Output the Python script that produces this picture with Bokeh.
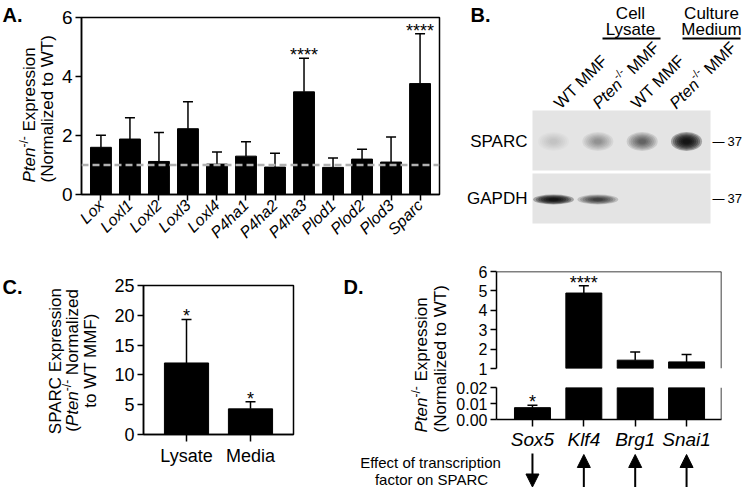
import numpy as np
from bokeh.plotting import figure
from bokeh.models import (Range1d, FixedTicker, Whisker, TeeHead, ColumnDataSource,
                          Label, Span, Arrow, NormalHead, PrintfTickFormatter)
from bokeh.layouts import row, column
from bokeh.core.properties import value
from bokeh.embed import file_html
from bokeh.resources import INLINE

# ---------------- data ----------------
A_GENES = ["Lox", "Loxl1", "Loxl2", "Loxl3", "Loxl4", "P4ha1", "P4ha2",
           "P4ha3", "Plod1", "Plod2", "Plod3", "Sparc"]
A_MEAN = [1.60, 1.88, 1.12, 2.23, 1.03, 1.30, 0.93, 3.48, 0.92, 1.20, 1.10, 3.76]
A_UPPER = [2.01, 2.60, 2.10, 3.14, 1.44, 1.79, 1.40, 4.62, 1.24, 1.53, 1.95, 5.45]
A_SIG = ["", "", "", "", "", "", "", "****", "", "", "", "****"]
A_YTICKS = [0, 2, 4, 6]
A_WT_LEVEL = 1.0

B_GENOTYPE = ["WT", "Pten", "WT", "Pten"]
B_KO = [False, True, False, True]
B_CELL = "MMF"
B_GROUP_L1 = ["Cell", "Culture"]
B_GROUP_L2 = ["Lysate", "Medium"]
B_BLOTS = ["SPARC", "GAPDH"]
B_MARKER = ["37", "37"]
SPARC_SIGNAL = [0.06, 0.20, 0.36, 0.95]
GAPDH_SIGNAL = [0.95, 0.55, 0.0, 0.0]

C_GROUPS = ["Lysate", "Media"]
C_MEAN = [12.0, 4.3]
C_UPPER = [19.3, 5.5]
C_SIG = ["*", "*"]
C_YTICKS = [0, 5, 10, 15, 20, 25]

D_GENES = ["Sox5", "Klf4", "Brg1", "Snai1"]
D_MEAN = [0.0074, 4.89, 1.43, 1.34]
D_UPPER = [0.0089, 5.27, 1.85, 1.72]
D_SIG = ["*", "****", "", ""]
D_EFFECT = ["down", "up", "up", "up"]
D_SEG_HIGH = [1, 6]
D_TICKS_HIGH = [1, 2, 3, 4, 5, 6]
D_SEG_LOW = [0, 0.02]
D_TICKS_LOW = [0, 0.01, 0.02]

# ---------------- style ----------------
INK = "black"
FONT = "Liberation Sans"
CW = {' ': 278, '(': 333, ')': 333, '-': 333, '/': 278, 'P': 667, 't': 278, 'e': 556,
      'n': 556, 'E': 667, 'x': 500, 'p': 556, 'r': 333, 's': 500, 'i': 222, 'o': 556,
      'N': 722, 'm': 833, 'a': 556, 'l': 222, 'z': 500, 'd': 556, 'M': 833, 'F': 611,
      'W': 944, 'T': 611, 'S': 667, 'A': 667, 'R': 722, 'C': 722}


def tw(s, size):
    return sum(CW.get(c, 556) for c in s) * size / 1000.0


def lin(r0, r1, d0, d1):
    k = (d1 - d0) / (r1 - r0)
    return lambda r: d0 + (r - r0) * k


def label(p, cx, cy, rx, ry, text, size, style="normal", align="left",
          baseline="alphabetic", angle=0.0):
    p.add_layout(Label(x=cx(rx), y=cy(ry), text=text, angle=np.radians(angle),
                       text_font=FONT, text_font_size=f"{size}px",
                       text_font_style=style, text_align=align,
                       text_baseline=baseline, text_color=INK))


def runs_label(p, cx, cy, runs, ax, ay, angle, align="left"):
    a = np.radians(angle)
    total = sum(tw(t, s) for t, s, st, r in runs)
    adv = {"left": 0.0, "center": -total / 2, "right": -total}[align]
    for t, s, st, r in runs:
        lead = len(t) - len(t.lstrip(" "))
        adv += tw(" " * lead, s)
        t = t.lstrip(" ")
        rx = ax + adv * np.cos(a) - r * np.sin(a)
        ry = ay - adv * np.sin(a) - r * np.cos(a)
        label(p, cx, cy, rx, ry, t, s, st, "left", "alphabetic", angle)
        adv += tw(t, s)


def base_fig(**kw):
    p = figure(output_backend="svg", toolbar_location=None, title=None, **kw)
    p.grid.visible = False
    p.background_fill_color = "white"
    p.border_fill_color = "white"
    p.outline_line_color = INK
    p.outline_line_width = 1.5
    p.outline_line_alpha = 1.0
    return p


def style_axis(ax, size, italic=False, tick_out=6, standoff=3):
    ax.axis_line_color = INK
    ax.axis_line_width = 1.5
    ax.major_tick_line_color = INK
    ax.major_tick_line_width = 1.5
    ax.major_tick_in = 0
    ax.major_tick_out = tick_out
    ax.minor_tick_line_color = None
    ax.major_label_text_font = FONT
    ax.major_label_text_font_size = f"{size}px"
    ax.major_label_text_color = INK
    ax.major_label_standoff = standoff
    if italic:
        ax.major_label_text_font_style = "italic"


def blank_fig(w, h, xr, yr):
    p = figure(output_backend="svg", toolbar_location=None, title=None, width=w, height=h,
               x_range=xr, y_range=yr, x_axis_location=None, y_axis_location=None,
               min_border=0)
    p.grid.visible = False
    p.outline_line_color = None
    p.background_fill_color = "white"
    p.border_fill_color = "white"
    return p


def add_whisker_stars(p, src):
    p.add_layout(Whisker(source=src, base="x", lower="mean", upper="upper",
                         line_color=INK, line_width=1.5, lower_head=None,
                         upper_head=TeeHead(size=10, line_color=INK, line_width=1.5)))
    p.text(x="x", y="upper", text="sig", source=src, text_align="center",
           text_baseline="alphabetic", text_font=value(FONT), text_font_size="18px",
           text_color=INK, y_offset=-3)


# ================= Panel A =================
xA = np.arange(len(A_GENES))
pA = base_fig(width=402, height=250, x_range=Range1d(-0.67, 11.67), y_range=Range1d(0, 6),
              min_border_left=22, min_border_right=21, min_border_top=17, min_border_bottom=53)
style_axis(pA.xaxis[0], 16, italic=True, tick_out=6, standoff=2)
style_axis(pA.yaxis[0], 19, tick_out=6, standoff=3)
pA.xaxis[0].ticker = FixedTicker(ticks=list(xA))
pA.xaxis[0].major_label_overrides = {int(i): g for i, g in zip(xA, A_GENES)}
pA.xaxis[0].major_label_orientation = np.pi / 4
pA.yaxis[0].ticker = FixedTicker(ticks=A_YTICKS)
srcA = ColumnDataSource(dict(x=xA, mean=A_MEAN, upper=A_UPPER, sig=A_SIG))
pA.vbar(x="x", top="mean", bottom=0, width=0.72, source=srcA, fill_color=INK, line_color=INK)
add_whisker_stars(pA, srcA)
pA.add_layout(Span(location=A_WT_LEVEL, dimension="width", line_color="#b0b0b0",
                   line_width=2.5, line_dash="7 4"))

# label strip left of A
pAl = blank_fig(58, 250, Range1d(0, 58), Range1d(0, 250))
cxAl, cyAl = (lambda r: r), (lambda r: 250 - r)
label(pAl, cxAl, cyAl, 2, 3, "A.", 20, "bold", "left", "top")
runs_label(pAl, cxAl, cyAl, [("Pten", 17, "italic", 0), ("-/-", 12, "normal", 6),
                             (" Expression", 17, "normal", 0)], 29, 182, 90)
runs_label(pAl, cxAl, cyAl, [("(Normalized to  WT)", 17, "normal", 0)], 47, 182, 90)

# ================= Panel B (blot) =================
lanes = np.arange(len(B_GENOTYPE))
cxB = lin(532, 710, -0.474, 3.541)
cyB = lambda r: 223 - r
pB = blank_fig(282, 250, Range1d(cxB(460), cxB(742)), Range1d(cyB(250), cyB(0)))
pB.quad(left=[cxB(532)] * 2, right=[cxB(710)] * 2, bottom=[cyB(170), cyB(223)],
        top=[cyB(110), cyB(173)], fill_color="#e4e4e4", line_color=None)
for sig, yc, w, h in [(SPARC_SIGNAL, cyB(141), 0.70, 19), (GAPDH_SIGNAL, cyB(199), 0.92, 10)]:
    sig = np.array(sig)
    for s in np.linspace(1.0, 0.25, 7):
        pB.ellipse(x=lanes, y=[yc] * len(lanes), width=w * s, height=h * s,
                   fill_color=INK, line_color=None, fill_alpha=np.minimum(1, sig * 0.3))
label(pB, cxB, cyB, 470, 3, "B.", 20, "bold", "left", "top")
for l1, l2, xc, (u0, u1) in zip(B_GROUP_L1, B_GROUP_L2, [630, 711], [(602, 660), (682, 740)]):
    label(pB, cxB, cyB, xc, 13, l1, 17, "normal", "center", "middle")
    label(pB, cxB, cyB, xc, 29, l2, 17, "normal", "center", "middle")
    pB.add_layout(Arrow(start=None, end=None, x_start=cxB(u0), y_start=cyB(38),
                        x_end=cxB(u1), y_end=cyB(38), line_color=INK, line_width=2))
LANE_LABEL_X0, LANE_LABEL_STEP, LANE_LABEL_Y = 556, 38.5, 105
for ln, g, ko in zip(lanes, B_GENOTYPE, B_KO):
    ax0 = LANE_LABEL_X0 + LANE_LABEL_STEP * ln
    if ko:
        runs = [(g, 16.5, "italic", 0), ("-/-", 11, "normal", 6), (" " + B_CELL, 16.5, "normal", 0)]
    else:
        runs = [(g + " " + B_CELL, 16.5, "normal", 0)]
    runs_label(pB, cxB, cyB, runs, ax0, LANE_LABEL_Y, 45)
for name, kda, yc in zip(B_BLOTS, B_MARKER, [141, 198]):
    label(pB, cxB, cyB, 527, yc, name, 17, "normal", "right", "middle")
    label(pB, cxB, cyB, 712, yc, "\u2014", 12, "normal", "left", "middle")
    label(pB, cxB, cyB, 727, yc, kda, 13, "normal", "left", "middle")

# ================= Panel C =================
xC = np.arange(len(C_GROUPS))
pC = base_fig(width=234, height=237, x_range=Range1d(-0.672, 1.672), y_range=Range1d(0, 25),
              min_border_left=39, min_border_right=45, min_border_top=35, min_border_bottom=53)
style_axis(pC.xaxis[0], 18, tick_out=7, standoff=4)
style_axis(pC.yaxis[0], 18, tick_out=6, standoff=3)
pC.xaxis[0].ticker = FixedTicker(ticks=list(xC))
pC.xaxis[0].major_label_overrides = {int(i): g for i, g in zip(xC, C_GROUPS)}
pC.yaxis[0].ticker = FixedTicker(ticks=C_YTICKS)
srcC = ColumnDataSource(dict(x=xC, mean=C_MEAN, upper=C_UPPER, sig=C_SIG))
pC.vbar(x="x", top="mean", bottom=0, width=0.69, source=srcC, fill_color=INK, line_color=INK)
add_whisker_stars(pC, srcC)

pCl = blank_fig(104, 237, Range1d(0, 104), Range1d(0, 237))
cxCl, cyCl = (lambda r: r), (lambda r: 487 - r)
label(pCl, cxCl, cyCl, 2, 275, "C.", 20, "bold", "left", "top")
runs_label(pCl, cxCl, cyCl, [("SPARC Expression", 17, "normal", 0)], 55, 360, 90, "center")
runs_label(pCl, cxCl, cyCl, [("(", 17, "normal", 0), ("Pten", 17, "italic", 0),
                             ("-/-", 12, "normal", 6), (" Normalized", 17, "normal", 0)],
           72, 360, 90, "center")
runs_label(pCl, cxCl, cyCl, [("to WT MMF)", 17, "normal", 0)], 90, 360, 90, "center")

# ================= Panel D =================
xD = np.arange(len(D_GENES))
xrD = Range1d(-0.70, 3.68)
dm, du, ds = np.array(D_MEAN), np.array(D_UPPER), np.array(D_SIG)
hi = dm >= D_SEG_HIGH[0]
lo = dm <= D_SEG_LOW[1]

pDt = base_fig(width=292, height=127, x_range=xrD, y_range=Range1d(*D_SEG_HIGH),
               x_axis_location=None, min_border_left=46, min_border_right=21,
               min_border_top=21, min_border_bottom=9)
pDt.outline_line_color = None
style_axis(pDt.yaxis[0], 16, tick_out=6, standoff=3)
pDt.yaxis[0].ticker = FixedTicker(ticks=D_TICKS_HIGH)
pDt.yaxis[0].bounds = tuple(D_SEG_HIGH)
srcDt = ColumnDataSource(dict(x=xD[hi], mean=dm[hi], upper=du[hi], sig=list(ds[hi])))
pDt.vbar(x="x", top="mean", bottom=D_SEG_HIGH[0], width=0.70, source=srcDt,
         fill_color=INK, line_color=INK)
add_whisker_stars(pDt, srcDt)
pDt.add_layout(Span(location=D_SEG_HIGH[1], dimension="width", line_color=INK, line_width=1.5))
pDt.add_layout(Span(location=xrD.end, dimension="height", line_color=INK, line_width=1.5))

pDb = base_fig(width=292, height=75, x_range=xrD, y_range=Range1d(*D_SEG_LOW),
               min_border_left=46, min_border_right=21, min_border_top=10, min_border_bottom=32)
pDb.outline_line_color = None
style_axis(pDb.xaxis[0], 19, italic=True, tick_out=7, standoff=2)
style_axis(pDb.yaxis[0], 16, tick_out=6, standoff=3)
pDb.xaxis[0].ticker = FixedTicker(ticks=list(xD))
pDb.xaxis[0].major_label_overrides = {int(i): g for i, g in zip(xD, D_GENES)}
pDb.yaxis[0].ticker = FixedTicker(ticks=D_TICKS_LOW)
pDb.yaxis[0].formatter = PrintfTickFormatter(format="%.2f")
pDb.vbar(x=xD, top=dm, bottom=0, width=0.70, fill_color=INK, line_color=INK)
srcDb = ColumnDataSource(dict(x=xD[lo], mean=dm[lo], upper=du[lo], sig=list(ds[lo])))
add_whisker_stars(pDb, srcDb)
pDb.add_layout(Span(location=xrD.end, dimension="height", line_color=INK, line_width=1.5))

# left label strip of D
cxDl, cyDl = (lambda r: r - 338), (lambda r: 452 - r)
pDl = blank_fig(112, 202, Range1d(0, 112), Range1d(0, 202))
label(pDl, cxDl, cyDl, 343, 275, "D.", 20, "bold", "left", "top")
runs_label(pDl, cxDl, cyDl, [("Pten", 17, "italic", 0), ("-/-", 12, "normal", 6),
                             (" Expression", 17, "normal", 0)], 421, 432, 90)
runs_label(pDl, cxDl, cyDl, [("(Normalized to WT)", 17, "normal", 0)], 440, 432, 90)

# arrows strip of D
cxDa, cyDa = lin(496, 721, -0.70, 3.68), (lambda r: 487 - r)
pDa = blank_fig(404, 35, Range1d(cxDa(338), cxDa(742)), Range1d(0, 35))
ARROW_Y = {"up": (cyDa(486.5), cyDa(454)), "down": (cyDa(453), cyDa(486.5))}
srcArr = ColumnDataSource(dict(x=xD, y0=[ARROW_Y[e][0] for e in D_EFFECT],
                               y1=[ARROW_Y[e][1] for e in D_EFFECT]))
pDa.add_layout(Arrow(source=srcArr, x_start="x", y_start="y0", x_end="x", y_end="y1",
                     line_color=INK, line_width=2,
                     end=NormalHead(size=13, fill_color=INK, line_color=INK, line_width=1)))
label(pDa, cxDa, cyDa, 430, 462, "Effect of transcription", 15, "normal", "center", "middle")
label(pDa, cxDa, cyDa, 431, 479, "factor on SPARC", 15, "normal", "center", "middle")

layout = column(row(column(pAl), column(pA), column(pB)),
                row(column(pCl), column(pC),
                    column(row(column(pDl), column(pDt, pDb)), pDa)))

open("out.html", "w").write(file_html(layout, INLINE, title="chart"))
